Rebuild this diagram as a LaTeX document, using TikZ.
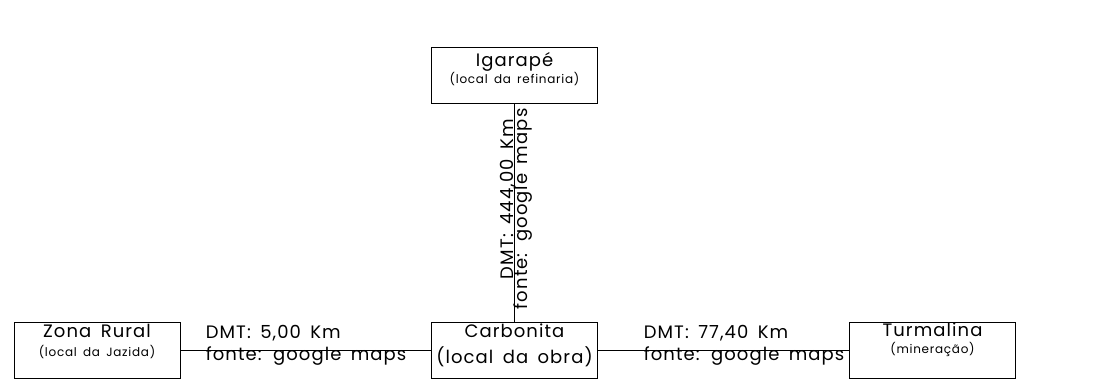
\documentclass[tikz,border=0pt]{standalone}
\usepackage{fontspec}
\setmainfont{Poppins}[LetterSpace=6, WordSpace=1.6]
\usetikzlibrary{positioning}

\tikzset{
  site/.style={draw, line width=0.8pt, minimum width=166pt, minimum height=56pt, inner sep=0pt},
  big/.style={font=\fontsize{18}{20}\selectfont, inner sep=0pt, anchor=base},
  small/.style={font=\fontsize{12}{14}\selectfont, inner sep=0pt, anchor=base},
  road/.style={line width=0.8pt},
}

\begin{document}
\begin{tikzpicture}[x=1pt,y=-1pt]
\useasboundingbox (0,0) rectangle (1113,381);

% sites
\node[site] (igarape) at (514.5,75.5) {};
\node[site] (carbonita) at (514.5,350) {};
\node[site] (zona) at (97,350) {};
\node[site] (turmalina) at (932.5,350) {};

\node[big] (igarape-a) at ([yshift=-19pt]igarape.north) {Igarapé};
\node[small] (igarape-b) at ([yshift=-36pt]igarape.north) {(local da refinaria)};
\node[big] (zona-a) at ([yshift=-16pt]zona.north) {Zona Rural};
\node[small] (zona-b) at ([yshift=-35pt]zona.north) {(local da Jazida)};
\node[big] (carbonita-a) at ([yshift=-16pt]carbonita.north) {Carbonita};
\node[big] (carbonita-b) at ([yshift=-42pt]carbonita.north) {(local da obra)};
\node[big] (turmalina-a) at ([yshift=-15pt]turmalina.north) {Turmalina};
\node[small] (turmalina-b) at ([yshift=-32pt]turmalina.north) {(mineração)};

% distances
\draw[road] (igarape) -- (carbonita)
  node[big, pos=0.438, xshift=-1pt, rotate=90] (dmt-ig) {DMT: 444,00 Km}
  node[big, pos=0.482, xshift=13pt, rotate=90] (src-ig) {fonte: google maps};
\draw[road] (zona) -- (carbonita)
  node[big, pos=0, anchor=base west, xshift=25pt, yshift=11.5pt] (dmt-zr) {DMT: 5,00 Km}
  node[big, pos=0, anchor=base west, xshift=25pt, yshift=-10pt] (src-zr) {fonte: google maps};
\draw[road] (carbonita) -- (turmalina)
  node[big, pos=0, anchor=base west, xshift=45.5pt, yshift=11.5pt] (dmt-tu) {DMT: 77,40 Km}
  node[big, pos=0, anchor=base west, xshift=45.5pt, yshift=-10pt] (src-tu) {fonte: google maps};
\end{tikzpicture}
\end{document}
